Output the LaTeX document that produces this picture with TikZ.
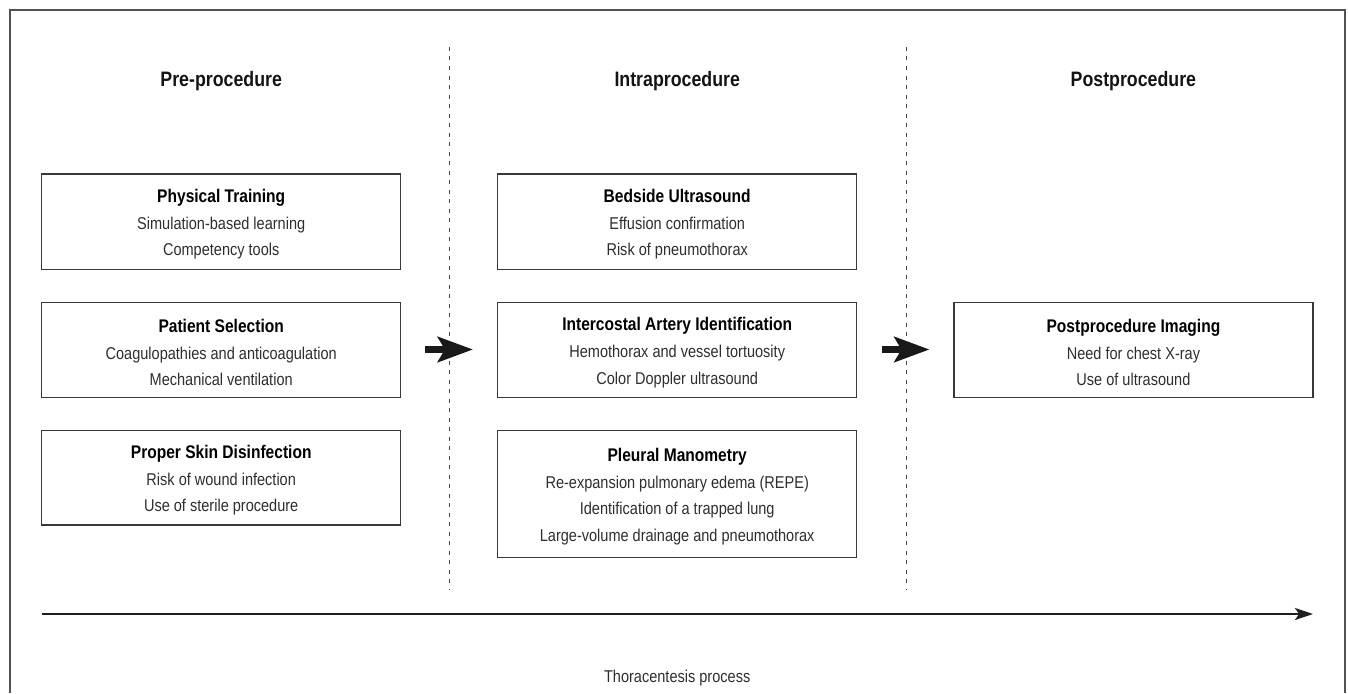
\documentclass[tikz,border=0pt]{standalone}
\usepackage{fontspec}
\setmainfont{Liberation Sans}[FakeStretch=0.85]
\usetikzlibrary{arrows.meta}
\begin{document}
\begin{tikzpicture}[x=1pt,y=-1pt,
  boxframe/.style={draw=black!78, line width=1.3pt, minimum width=359pt, inner sep=0pt},
  boxtext/.style={align=center, inner sep=0pt, text=black!82, font=\fontsize{17.1}{26.7}\selectfont},
  header/.style={anchor=base, font=\fontsize{20.9}{22}\selectfont\bfseries, text=black!92},
  divider/.style={draw=black!72, line width=1pt, dash pattern=on 4pt off 5.5pt},
  blockarrow/.style={draw=black!90, line width=7pt, -{Stealth[length=35pt,width=25pt,inset=7pt]}},
  timeline/.style={draw=black!88, line width=2.4pt, -{Stealth[length=18pt,width=12pt,inset=4pt]}},
  frame/.style={draw=black!68, line width=2pt}
]
\newcommand{\bt}[1]{{\color{black}\fontsize{18.3}{26.7}\selectfont\bfseries #1}}
\useasboundingbox (0,0) rectangle (1348,693);
\draw[frame] (10,693) -- (10,10) -- (1344.7,10) -- (1344.7,693);

% headers
\node[header] (hpre) at (221.2,86) {Pre-procedure};
\node[header] (hintra) at (677.2,86) {Intraprocedure};
\node[header] (hpost) at (1133.4,86) {Postprocedure};

% dividers
\coordinate (d1t) at (449.5,47); \coordinate (d1b) at (449.5,590);
\coordinate (d2t) at (906,47);   \coordinate (d2b) at (906,590);
\draw[divider] (d1t) -- (d1b);
\draw[divider] (d2t) -- (d2b);

% left column
\node[boxframe, minimum height=95.5pt] (b1) at (221.2,221.8) {};
\node[boxtext] (t1) at ([yshift=-2.5pt]b1.center) {\bt{Physical Training}\\Simulation-based learning\\Competency tools};
\node[boxframe, minimum height=94.8pt] (b2) at (221.2,350.1) {};
\node[boxtext] (t2) at ([yshift=-2.5pt]b2.center) {\bt{Patient Selection}\\Coagulopathies and anticoagulation\\Mechanical ventilation};
\node[boxframe, minimum height=94.3pt] (b3) at (221.2,477.9) {};
\node[boxtext] (t3) at ([yshift=-2.5pt]b3.center) {\bt{Proper Skin Disinfection}\\Risk of wound infection\\Use of sterile procedure};

% middle column
\node[boxframe, minimum height=95.5pt] (b4) at (677.2,221.8) {};
\node[boxtext] (t4) at ([yshift=-2.5pt]b4.center) {\bt{Bedside Ultrasound}\\Effusion confirmation\\Risk of pneumothorax};
\node[boxframe, minimum height=94.8pt] (b5) at (677.2,350.1) {};
\node[boxtext] (t5) at ([yshift=-2.5pt]b5.center) {\bt{Intercostal Artery Identification}\\Hemothorax and vessel tortuosity\\Color Doppler ultrasound};
\node[boxframe, minimum height=126.6pt] (b6) at (677.2,494) {};
\node[boxtext] (t6) at ([yshift=-2.5pt]b6.center) {\bt{Pleural Manometry}\\Re-expansion pulmonary edema (REPE)\\Identification of a trapped lung\\Large-volume drainage and pneumothorax};

% right column
\node[boxframe, minimum height=94.8pt] (b7) at (1133.4,350.1) {};
\node[boxtext] (t7) at ([yshift=-2.5pt]b7.center) {\bt{Postprocedure Imaging}\\Need for chest X-ray\\Use of ultrasound};

% block arrows
\coordinate (a1s) at (425,349.5); \coordinate (a1e) at (473,349.5);
\coordinate (a2s) at (882,349.5); \coordinate (a2e) at (929.5,349.5);
\draw[blockarrow] (a1s) -- (a1e);
\draw[blockarrow] (a2s) -- (a2e);

% timeline
\coordinate (tl1) at (41.7,614); \coordinate (tl2) at (1313,614);
\draw[timeline] (tl1) -- (tl2);
\node[anchor=base, font=\fontsize{17.1}{20}\selectfont, text=black!82] (tlabel) at (677.2,682) {Thoracentesis process};
\end{tikzpicture}
\end{document}
